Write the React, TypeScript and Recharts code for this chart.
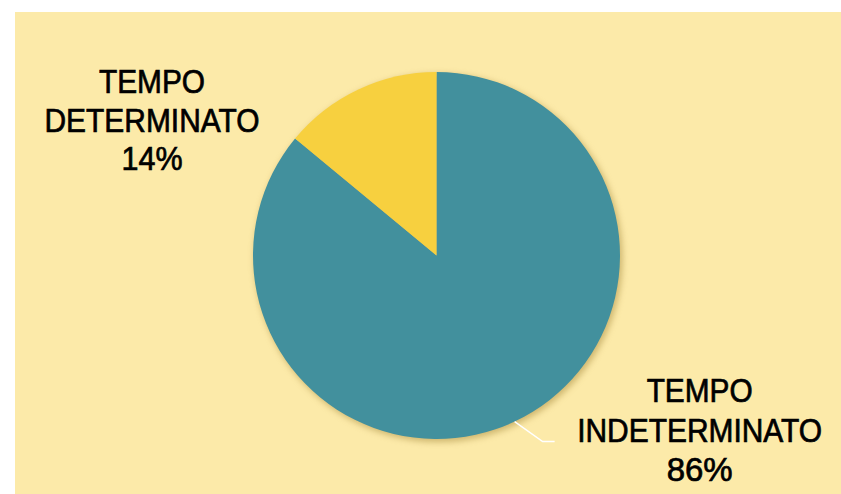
import React from "react";
import { PieChart, Pie, Cell } from "recharts";

const categories = ["TEMPO INDETERMINATO", "TEMPO DETERMINATO"];
const values = [86, 14];
const colors = ["#42909D", "#F7D03F"];
const percentLabels = ["86%", "14%"];

const data = categories.map((name, i) => ({ name, value: values[i] }));
const shadowData = [{ name: "shadow", value: 1 }];

const RAD = Math.PI / 180;
const FONT = "'Liberation Sans', Arial, sans-serif";

const lineWidths: Record<string, number> = {
  TEMPO: 106,
  INDETERMINATO: 245,
  DETERMINATO: 215,
  "86%": 66,
  "14%": 61,
};

function TextLine({ x, y, text }: { x: number; y: number; text: string }) {
  const w = lineWidths[text] ?? text.length * 18;
  return (
    <text
      x={x - w / 2}
      y={y}
      textAnchor="start"
      fontFamily={FONT}
      fontSize={33}
      fill="#000"
      stroke="#000"
      strokeWidth={0.7}
      textLength={w}
      lengthAdjust="spacingAndGlyphs"
    >
      {text}
    </text>
  );
}

const renderLabel = (props: any) => {
  const { cx, cy, midAngle, outerRadius, index } = props;
  const words = categories[index].split(" ");
  const lines = [words[0], words[1], percentLabels[index]];
  if (index === 0) {
    const sx = cx + outerRadius * Math.cos(-midAngle * RAD);
    const sy = cy + outerRadius * Math.sin(-midAngle * RAD);
    const mx = sx + 28;
    const my = sy + 20;
    const ex = mx + 12;
    const tx = ex + 145;
    return (
      <g>
        <polyline
          points={`${sx},${sy} ${mx},${my} ${ex},${my}`}
          fill="none"
          stroke="#FFFFFF"
          strokeWidth={1.5}
        />
        <TextLine x={tx} y={cy + 146.5} text={lines[0]} />
        <TextLine x={tx} y={cy + 186.5} text={lines[1]} />
        <TextLine x={tx} y={cy + 225.5} text={lines[2]} />
      </g>
    );
  }
  const tx = cx - 284.5;
  return (
    <g>
      <TextLine x={tx} y={cy - 162.5} text={lines[0]} />
      <TextLine x={tx} y={cy - 123.5} text={lines[1]} />
      <TextLine x={tx} y={cy - 85.5} text={lines[2]} />
    </g>
  );
};

export default function App() {
  return (
    <div
      style={{
        position: "fixed",
        left: 0,
        top: 0,
        width: 841,
        height: 494,
        background: "#FFFFFF",
        overflow: "hidden",
      }}
    >
      <div
        style={{
          position: "absolute",
          left: 15,
          top: 12,
          width: 826,
          height: 482,
          background: "#FCEAA9",
        }}
      >
        <PieChart width={826} height={482} margin={{ top: 0, right: 0, bottom: 0, left: 0 }}>
          <Pie
            data={shadowData}
            dataKey="value"
            cx={423.5}
            cy={246}
            outerRadius={184}
            startAngle={90}
            endAngle={-270}
            stroke="none"
            isAnimationActive={false}
            label={false}
            labelLine={false}
          >
            <Cell fill="rgba(150,120,40,0.45)" style={{ filter: "blur(3px)" }} />
          </Pie>
          <Pie
            data={data}
            dataKey="value"
            nameKey="name"
            cx={421.5}
            cy={243.5}
            outerRadius={183.5}
            startAngle={90}
            endAngle={-270}
            stroke="none"
            isAnimationActive={false}
            labelLine={false}
            label={renderLabel}
          >
            {data.map((d, i) => (
              <Cell key={d.name} fill={colors[i]} />
            ))}
          </Pie>
        </PieChart>
      </div>
    </div>
  );
}
